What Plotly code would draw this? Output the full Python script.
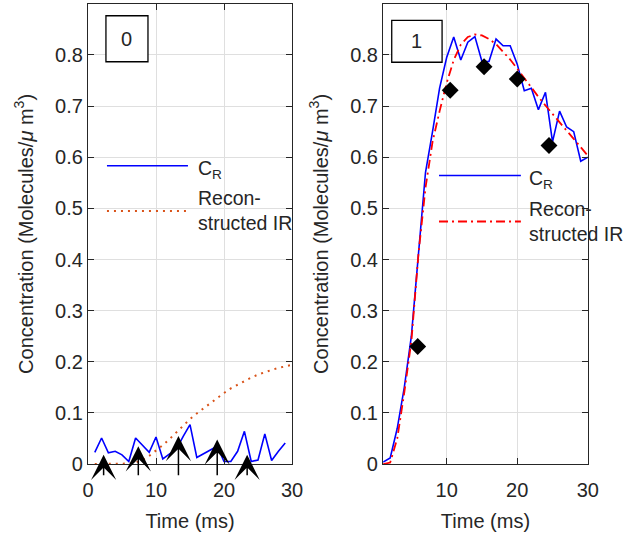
import plotly.graph_objects as go
from plotly.subplots import make_subplots

# ---- data -------------------------------------------------------------
t_noise = list(range(1, 30))
t_full = list(range(1, 31))

# panel 0
cr_0 = [0.023, 0.051, 0.022, 0.025, 0.018, 0.005, 0.051, 0.036, 0.023, 0.053,
        0.010, 0.020, 0.029, 0.054, 0.077, 0.013, 0.020, 0.028, 0.035, 0.005,
        0.005, 0.025, 0.064, 0.005, 0.008, 0.059, 0.007, 0.025, 0.041]
ir_0 = [0, 0, 0, 0, 0, 0.001, 0.003, 0.008, 0.016, 0.026,
        0.037, 0.049, 0.062, 0.076, 0.088, 0.099, 0.109, 0.120, 0.130, 0.139,
        0.148, 0.155, 0.163, 0.169, 0.175, 0.180, 0.184, 0.188, 0.191, 0.194]
release_t = [2.3, 7.4, 13.3, 19.0, 23.4]
release_tip = [0.018, 0.035, 0.055, 0.048, 0.018]
release_base = -0.025

# panel 1
cr_1 = [0.004, 0.012, 0.070, 0.150, 0.250, 0.410, 0.570, 0.650, 0.735, 0.795,
        0.835, 0.790, 0.825, 0.836, 0.787, 0.787, 0.831, 0.818, 0.818, 0.782,
        0.730, 0.735, 0.693, 0.727, 0.630, 0.690, 0.659, 0.650, 0.592, 0.600]
ir_1 = [0, 0.003, 0.050, 0.140, 0.240, 0.410, 0.540, 0.630, 0.690, 0.745,
        0.790, 0.820, 0.835, 0.840, 0.838, 0.831, 0.821, 0.807, 0.791, 0.773,
        0.754, 0.736, 0.718, 0.701, 0.684, 0.668, 0.652, 0.636, 0.619, 0.603]
sample_t = [5.9, 10.5, 15.3, 20.0, 24.5]
sample_c = [0.230, 0.731, 0.777, 0.753, 0.623]

y_ticks = [0, 0.1, 0.2, 0.3, 0.4, 0.5, 0.6, 0.7, 0.8]
y_labels = ["0", "0.1", "0.2", "0.3", "0.4", "0.5", "0.6", "0.7", "0.8"]

FONT = "Liberation Sans, Arial, sans-serif"
INK = "#262626"
BLUE = "#0000ff"
ORANGE = "#d95319"
RED = "#ff0000"

fig = make_subplots(rows=1, cols=2)

fig.add_trace(go.Scatter(x=t_noise, y=cr_0, mode="lines",
                         line=dict(color=BLUE, width=1.6)), row=1, col=1)
fig.add_trace(go.Scatter(x=t_full, y=ir_0, mode="lines",
                         line=dict(color=ORANGE, width=2, dash="2px,5px")), row=1, col=1)

fig.add_trace(go.Scatter(x=t_full, y=cr_1, mode="lines",
                         line=dict(color=BLUE, width=1.6)), row=1, col=2)
fig.add_trace(go.Scatter(x=t_full, y=ir_1, mode="lines",
                         line=dict(color=RED, width=1.8, dash="9px,4px,2px,4px")), row=1, col=2)
fig.add_trace(go.Scatter(x=sample_t, y=sample_c, mode="markers",
                         marker=dict(symbol="diamond", size=13, color="black")), row=1, col=2)

# release arrows (quiver style)
for t, tip in zip(release_t, release_tip):
    fig.add_annotation(x=t, y=tip, ax=t, ay=release_base, xref="x", yref="y",
                       axref="x", ayref="y", text="", showarrow=True,
                       arrowhead=3, arrowsize=2.8, arrowwidth=1.5, arrowcolor="black")

# hand-drawn legends (long sample lines like the original)
def legend(xr, yr, x0, x1, x_txt, y_cr, y_ir, ir_line):
    fig.add_shape(type="line", xref=xr, yref=yr, x0=x0, x1=x1, y0=y_cr, y1=y_cr,
                  line=dict(color=BLUE, width=1.6))
    fig.add_shape(type="line", xref=xr, yref=yr, x0=x0, x1=x1, y0=y_ir, y1=y_ir,
                  line=ir_line)
    fig.add_annotation(xref=xr, yref=yr, x=x_txt, y=y_cr, text="C<sub>R</sub>",
                       showarrow=False, xanchor="left", yanchor="middle", yshift=-4,
                       font=dict(size=19.5))
    fig.add_annotation(xref=xr, yref=yr, x=x_txt, y=y_ir, text="Recon-<br>structed IR",
                       showarrow=False, xanchor="left", yanchor="middle", align="left",
                       font=dict(size=19.5))

legend("x domain", "y domain", 0.093, 0.49, 0.53, 0.648, 0.55,
       dict(color=ORANGE, width=2, dash="2px,5px"))
legend("x2 domain", "y2 domain", 0.273, 0.673, 0.705, 0.627, 0.527,
       dict(color=RED, width=1.8, dash="9px,4px,2px,4px"))

# panel number boxes
for xr, yr, x0, x1, y0, y1, label in [("x domain", "y domain", 0.088, 0.294, 0.874, 0.974, "0"),
                                       ("x2 domain", "y2 domain", 0.042, 0.288, 0.873, 0.964, "1")]:
    fig.add_shape(type="rect", xref=xr, yref=yr, x0=x0, x1=x1, y0=y0, y1=y1,
                  line=dict(color="black", width=1.3), fillcolor="white")
    fig.add_annotation(xref=xr, yref=yr, x=(x0 + x1) / 2, y=(y0 + y1) / 2, text=label,
                       showarrow=False, xanchor="center", yanchor="middle")

axis_style = dict(showline=True, linecolor=INK, linewidth=1.3, mirror="ticks",
                  ticks="inside", ticklen=6, tickwidth=1.3, tickcolor=INK,
                  showgrid=True, gridcolor="#dfdfdf", gridwidth=1.2, zeroline=False,
                  automargin=False, tickfont=dict(size=20, color=INK))

fig.update_xaxes(**axis_style, ticklabelstandoff=8,
                 title=dict(text="Time (ms)", font=dict(size=20, color=INK), standoff=13))
fig.update_yaxes(**axis_style, range=[0, 0.9], tickvals=y_ticks, ticktext=y_labels,
                 title=dict(text="Concentration (Molecules/<i>μ</i> m<sup>3</sup>)",
                            font=dict(size=20, color=INK), standoff=16))
fig.update_xaxes(range=[0, 30], tickvals=[0, 10, 20, 30], domain=[0.141, 0.468], row=1, col=1)
fig.update_xaxes(range=[1, 30], tickvals=[10, 20, 30], domain=[0.614, 0.942], row=1, col=2)
fig.update_yaxes(domain=[0.139, 0.993])

fig.update_layout(width=624, height=539, showlegend=False,
                  margin=dict(l=0, r=0, t=0, b=0),
                  plot_bgcolor="white", paper_bgcolor="white",
                  font=dict(family=FONT, size=20, color=INK))

fig.write_html("out.html", config={"displayModeBar": False},
               post_script="document.body.style.margin = '0px';")
